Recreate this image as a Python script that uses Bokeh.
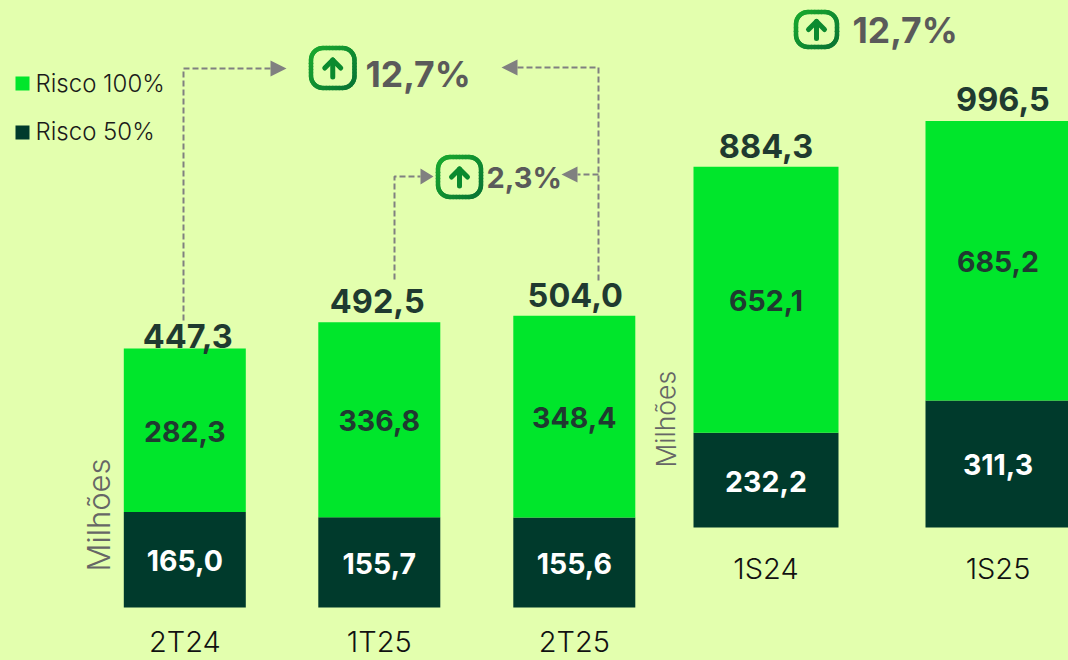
from bokeh.plotting import figure
from bokeh.models import Range1d, ColumnDataSource
from bokeh.core.properties import value
from bokeh.embed import file_html
from bokeh.resources import INLINE
import math

categories = ["2T24", "1T25", "2T25", "1S24", "1S25"]
risco_50 = [165.0, 155.7, 155.6, 232.2, 311.3]
risco_100 = [282.3, 336.8, 348.4, 652.1, 685.2]
totals = [447.3, 492.5, 504.0, 884.3, 996.5]
labels_50 = ["165,0", "155,7", "155,6", "232,2", "311,3"]
labels_100 = ["282,3", "336,8", "348,4", "652,1", "685,2"]
labels_total = ["447,3", "492,5", "504,0", "884,3", "996,5"]
variation = ["12,7%", "2,3%", "12,7%"]
legend_names = ["Risco 100%", "Risco 50%"]
unit = "Milhões"

BG = "#E3FFAE"
G100 = "#00E62B"
G50 = "#003A2C"
INK = "#1F3A30"
GREY = "#5A5A5A"
ARROW = "#808080"
FONT = "Inter"
LIGHT = "Inter Light, Inter"
W, H = 1068, 660

# layout
centers = [184.3, 378.8, 573.8, 765.5, 997.5]
widths = [122, 122, 122, 145, 145]
groups = ["left", "left", "left", "right", "right"]
scale = {"left": (607, 0.579), "right": (527, 0.408)}
total_offset = {"447,3": -13, "492,5": -21, "504,0": -21, "884,3": -21, "996,5": -22}
total_shift = {"447,3": 3, "492,5": -2, "504,0": 1, "884,3": 0, "996,5": 5}

p = figure(width=W, height=H, x_range=Range1d(0, W), y_range=Range1d(H, 0),
           output_backend="svg", toolbar_location=None, min_border=0,
           background_fill_color=BG, border_fill_color=BG, outline_line_color=None)
p.axis.visible = False
p.grid.visible = False
for g, (base, k) in scale.items():
    p.extra_y_ranges[g] = Range1d((base - H) / k, base / k)

for g in scale:
    idx = [i for i, n in enumerate(groups) if n == g]
    src = ColumnDataSource(dict(
        x=[centers[i] for i in idx], w=[widths[i] for i in idx],
        r50=[risco_50[i] for i in idx], r100=[risco_100[i] for i in idx],
        top=[risco_50[i] + risco_100[i] for i in idx],
        mid50=[risco_50[i] / 2 for i in idx],
        mid100=[risco_50[i] + risco_100[i] / 2 for i in idx],
        t=[totals[i] for i in idx],
        l50=[labels_50[i] for i in idx], l100=[labels_100[i] for i in idx],
        lt=[labels_total[i] for i in idx],
        dy=[total_offset[labels_total[i]] for i in idx],
        dx=[total_shift[labels_total[i]] for i in idx],
    ))
    p.vbar(x="x", width="w", bottom=0, top="r50", source=src, y_range_name=g,
           fill_color=G50, line_color=None)
    p.vbar(x="x", width="w", bottom="r50", top="top", source=src, y_range_name=g,
           fill_color=G100, line_color=None)
    p.text(x="x", y="mid50", text="l50", source=src, y_range_name=g, y_offset=1, text_color="white",
           text_font=value(FONT), text_font_style="bold", text_font_size="28.5px",
           text_align="center", text_baseline="middle")
    p.text(x="x", y="mid100", text="l100", source=src, y_range_name=g, y_offset=1, text_color=INK,
           text_font=value(FONT), text_font_style="bold", text_font_size="28.5px",
           text_align="center", text_baseline="middle")
    p.text(x="x", y="t", text="lt", source=src, y_range_name=g, x_offset="dx", y_offset="dy", text_color=INK,
           text_font=value(FONT), text_font_style="bold", text_font_size="32.5px",
           text_align="center", text_baseline="middle")

# category labels
p.text(x=centers, y=[641, 641, 641, 568, 568], text=categories, text_color="#111111",
       text_font=value(LIGHT), text_font_size="29px", text_align="center", text_baseline="middle")

# unit labels
p.text(x=[98], y=[571], text=[unit], angle=1.5708, text_color="#666666",
       text_font=value(LIGHT), text_font_size="31px", text_align="left", text_baseline="middle")
p.text(x=[665], y=[467], text=[unit], angle=1.5708, text_color="#666666",
       text_font=value(LIGHT), text_font_size="26.5px", text_align="left", text_baseline="middle")

# legend
p.quad(left=[15, 15], right=[29, 29], top=[76, 125], bottom=[90, 139], fill_color=[G100, G50], line_color=None)
p.text(x=[35, 35], y=[83, 131], text=legend_names, text_color="#1a1a1a",
       text_font=value(LIGHT), text_font_size="24px", text_baseline="middle")

# dashed connectors
conn = [([183, 183, 270], [320, 68, 68]),
        ([394, 394, 420], [279, 176, 176]),
        ([598, 598, 517], [280, 67, 67]),
        ([598, 577], [174, 174])]
for xs, ys in conn:
    p.line(xs, ys, line_color=ARROW, line_width=2, line_dash="6 3")
heads = [([270, 270, 286], [60, 76, 68]), ([420, 420, 433], [168, 184, 176]),
         ([517, 517, 501], [59, 75, 67]), ([577, 577, 561], [166, 182, 174])]
for xs, ys in heads:
    p.patch(xs, ys, fill_color=ARROW, line_color=None)


def lerp(a, b, t):
    return "#%02x%02x%02x" % tuple(round(a[i] + (b[i] - a[i]) * t) for i in range(3))


def badge(x0, y0, w, h):
    r = 12
    pts = []
    corners = [(x0 + w - r, y0 + r, -90), (x0 + w - r, y0 + h - r, 0),
               (x0 + r, y0 + h - r, 90), (x0 + r, y0 + r, 180)]
    for cx, cy, a0 in corners:
        for j in range(9):
            a = math.radians(a0 + j * 90 / 8)
            pts.append((cx + r * math.cos(a), cy + r * math.sin(a)))
    pts.append(pts[0])
    fine = []
    for a, b in zip(pts, pts[1:]):
        n = max(1, int(math.hypot(b[0] - a[0], b[1] - a[1]) / 3))
        for j in range(n):
            fine.append((a[0] + (b[0] - a[0]) * j / n, a[1] + (b[1] - a[1]) * j / n))
    fine.append(fine[0])
    for a, b in zip(fine, fine[1:]):
        t = ((a[0] - x0) / w + (a[1] - y0) / h) / 2
        c = lerp((26, 170, 46), (8, 115, 52), t)
        p.line([a[0], b[0]], [a[1], b[1]], line_color=c, line_width=4.5, line_cap="round")
    cx = x0 + w / 2
    cy = y0 + h / 2
    p.line([cx, cx], [cy - 8, cy + 9], line_color="#0B8A2F", line_width=5, line_cap="round")
    p.line([cx - 8, cx, cx + 8], [cy, cy - 8, cy], line_color="#0B8A2F", line_width=5,
           line_cap="round", line_join="round")


badge(310.5, 47.5, 43.5, 40)
badge(437.5, 156.5, 43, 40)
badge(795.5, 11.5, 41, 35)

p.text(x=[365, 486, 852], y=[74, 177, 30], text=variation, text_color=GREY, text_font=value(FONT),
       text_font_style="bold", text_font_size=["35.5px", "29px", "35.5px"], text_baseline="middle")

html = file_html(p, INLINE)
html = html.replace("<head>", "<head><style>html,body{margin:0;padding:0;overflow:hidden;background:#E3FFAE}</style>", 1)
open("out.html", "w").write(html)
